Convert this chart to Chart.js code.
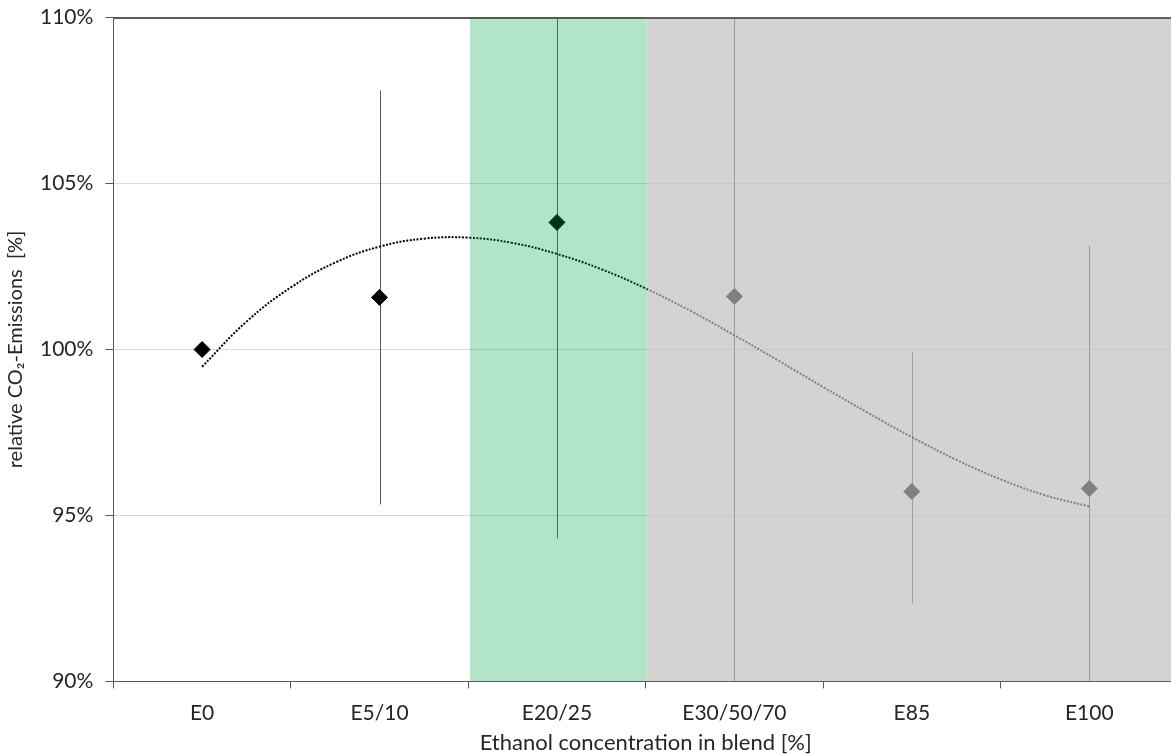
<!DOCTYPE html>
<html>
<head>
<meta charset="utf-8">
<script src="https://cdn.jsdelivr.net/npm/chart.js@4.4.1/dist/chart.umd.min.js"></script>
<style>
  html, body { margin: 0; padding: 0; background: #fff; overflow: hidden; }
  #wrap { position: absolute; left: 0; top: -7px; width: 1190px; height: 763px; }
</style>
</head>
<body>
<div id="wrap"><canvas id="c" width="1190" height="763"></canvas></div>
<script>
// Blend categories and relative CO2 emissions (% of E0)
const categories = ['E0', 'E5/10', 'E20/25', 'E30/50/70', 'E85', 'E100'];
const relEmission = [100, 101.57, 103.83, 101.6, 95.72, 95.81];
// Error bar ends (null = no bar)
const errHigh = [null, 107.8, 113.35, 113.6, 99.91, 103.13];
const errLow  = [null, 95.33, 94.31, 89.6, 92.35, 88.49];

// Cubic trend line, sampled every quarter category
const trendX = [0, 0.25, 0.5, 0.75, 1, 1.25, 1.5, 1.75, 2, 2.25, 2.5,
                2.75, 3, 3.25, 3.5, 3.75, 4, 4.25, 4.5, 4.75, 5];
const trendY = [99.48, 100.84, 101.87, 102.62, 103.10, 103.34, 103.37, 103.21, 102.88, 102.42, 101.84,
                101.17, 100.43, 99.66, 98.87, 98.10, 97.36, 96.68, 96.09, 95.61, 95.27];

// Shaded ranges along the category axis
const greenBand = [1.51, 2.51];
const greyBand = [2.51, 5.5];

const yTicks = [90, 95, 100, 105, 110];

const FONT = 'Lato, "Open Sans", sans-serif';
const TEXT = '#262626';
const AXIS = '#595959';

const errorBars = {
  id: 'errorBars',
  beforeDatasetsDraw(chart) {
    const { ctx, chartArea: a, scales: { xv, y } } = chart;
    ctx.save();
    ctx.beginPath();
    ctx.rect(a.left, a.top, a.right - a.left, a.bottom - a.top);
    ctx.clip();
    ctx.strokeStyle = '#595959';
    ctx.lineWidth = 1;
    categories.forEach((c, i) => {
      if (errHigh[i] == null) return;
      const px = Math.round(xv.getPixelForValue(i)) + 0.5;
      ctx.beginPath();
      ctx.moveTo(px, y.getPixelForValue(errHigh[i]));
      ctx.lineTo(px, y.getPixelForValue(errLow[i]));
      ctx.stroke();
    });
    ctx.restore();
  }
};

const bands = {
  id: 'bands',
  afterDatasetsDraw(chart) {
    const { ctx, chartArea: a, scales: { xv, y } } = chart;
    ctx.save();
    ctx.beginPath();
    ctx.rect(a.left, a.top, a.right - a.left, a.bottom - a.top);
    ctx.clip();
    const fillBand = (b, col) => {
      const x0 = xv.getPixelForValue(b[0]);
      const x1 = xv.getPixelForValue(b[1]);
      ctx.fillStyle = col;
      ctx.fillRect(x0, a.top, x1 - x0, a.bottom - a.top);
    };
    fillBand(greenBand, 'rgba(0,170,70,0.30)');
    fillBand(greyBand, 'rgba(190,190,190,0.675)');
    ctx.restore();
    // axis lines on top of the shading
    ctx.save();
    ctx.strokeStyle = AXIS;
    ctx.lineWidth = 1;
    const yb = Math.round(y.getPixelForValue(yTicks[0])) + 0.5;
    const yt = Math.round(y.getPixelForValue(yTicks[yTicks.length - 1])) + 0.5;
    ctx.beginPath();
    ctx.moveTo(a.left, yb); ctx.lineTo(a.right, yb);
    ctx.moveTo(a.left, yt); ctx.lineTo(a.right, yt);
    ctx.stroke();
    ctx.restore();
  }
};

new Chart(document.getElementById('c'), {
  type: 'line',
  data: {
    labels: categories,
    datasets: [
      {
        label: 'Trend',
        data: trendX.map((v, i) => ({ x: v, y: trendY[i] })),
        xAxisID: 'xv',
        borderColor: '#000',
        borderWidth: 2,
        borderDash: [2, 1.5],
        pointRadius: 0,
        tension: 0.4,
        fill: false,
        order: 2
      },
      {
        label: 'relative CO2-Emissions',
        data: relEmission.map((v, i) => ({ x: i, y: v })),
        xAxisID: 'xv',
        showLine: false,
        pointStyle: 'rectRot',
        pointRadius: 8,
        pointBackgroundColor: '#000',
        pointBorderColor: '#000',
        pointBorderWidth: 1,
        order: 1
      }
    ]
  },
  options: {
    responsive: false,
    animation: false,
    events: [],
    layout: { padding: { left: 0, right: 12, top: 0, bottom: 0 } },
    plugins: {
      legend: { display: false },
      tooltip: { enabled: false }
    },
    scales: {
      xv: {
        type: 'linear',
        display: false,
        min: -0.5,
        max: 5.5
      },
      x: {
        type: 'category',
        position: 'bottom',
        offset: true,
        grid: {
          offset: true,
          drawOnChartArea: false,
          drawTicks: true,
          tickLength: 7,
          tickColor: AXIS
        },
        border: { display: true, color: AXIS, width: 1 },
        ticks: {
          color: TEXT,
          font: { family: FONT, size: 21 },
          padding: 12,
          maxRotation: 0
        },
        title: {
          display: true,
          text: 'Ethanol concentration in blend [%]',
          color: TEXT,
          font: { family: FONT, size: 22 },
          padding: { top: -8, bottom: 0 }
        }
      },
      y: {
        type: 'linear',
        min: 90,
        max: 110,
        afterBuildTicks(scale) { scale.ticks = yTicks.map(v => ({ value: v })); },
        grid: {
          color: ctx => (ctx.tick && ctx.tick.value === 110 ? AXIS : '#d9d9d9'),
          tickColor: AXIS,
          tickLength: 8,
          lineWidth: 1
        },
        border: { display: true, color: AXIS, width: 1 },
        ticks: {
          color: TEXT,
          font: { family: FONT, size: 21 },
          padding: 12,
          callback: v => v + '%'
        },
        title: {
          display: true,
          text: 'relative CO\u2082-Emissions  [%]',
          color: TEXT,
          font: { family: FONT, size: 20 },
          padding: { top: 4, bottom: 0 }
        }
      }
    }
  },
  plugins: [errorBars, bands]
});
</script>
</body>
</html>
